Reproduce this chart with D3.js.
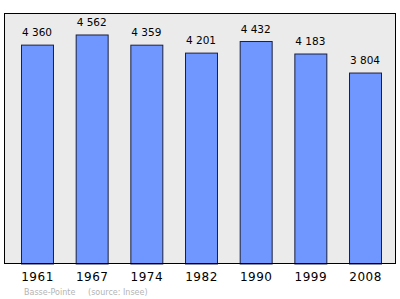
<!DOCTYPE html>
<html><head><meta charset="utf-8">
<script src="https://d3js.org/d3.v7.min.js"></script>
<style>body{margin:0;background:#fff}svg{display:block}</style>
</head><body>
<script>
const years = ["1961","1967","1974","1982","1990","1999","2008"];
const population = [4360,4562,4359,4201,4432,4183,3804];
const valueLabels = ["4 360","4 562","4 359","4 201","4 432","4 183","3 804"];
const caption = "Basse-Pointe     (source: Insee)";

const W = 400, H = 299;
const plot = {left: 4.5, right: 395.5, top: 13.5, bottom: 263.5};
const svg = d3.select("body").append("svg").attr("width", W).attr("height", H);

svg.append("rect")
  .attr("x", plot.left).attr("y", plot.top)
  .attr("width", plot.right - plot.left).attr("height", plot.bottom - plot.top)
  .attr("fill", "#ebebeb").attr("stroke", "#000").attr("stroke-width", 1);

const x = d3.scaleBand().domain(years).range([21.5, 381.5]).paddingInner(0.415).paddingOuter(0);
const y = d3.scaleLinear().domain([0, 5000]).range([264, 13]);

svg.selectAll("rect.bar").data(population).enter().append("rect")
  .attr("class", "bar")
  .attr("x", (d, i) => x(years[i]))
  .attr("y", d => y(d))
  .attr("width", x.bandwidth())
  .attr("height", d => y(0) - y(d))
  .attr("fill", "#6f97ff").attr("stroke", "#1a2040").attr("stroke-width", 1);

svg.append("line").attr("x1", plot.left).attr("x2", plot.right)
  .attr("y1", plot.bottom).attr("y2", plot.bottom).attr("stroke", "#000");

svg.selectAll("text.val").data(population).enter().append("text")
  .attr("class", "val")
  .attr("x", (d, i) => x(years[i]) + x.bandwidth() / 2 - 0.5)
  .attr("y", d => y(d) - 9)
  .attr("text-anchor", "middle")
  .attr("font-family", "DejaVu Sans, sans-serif").attr("font-size", 10.5)
  .attr("fill", "#000")
  .text((d, i) => valueLabels[i]);

const xAxis = svg.append("g").attr("transform", `translate(0,${plot.bottom})`)
  .call(d3.axisBottom(x).tickSize(0).tickPadding(9));
xAxis.select(".domain").remove();
xAxis.selectAll("text").attr("font-family", "DejaVu Sans, sans-serif").attr("font-size", 12)
  .attr("fill", "#000").attr("letter-spacing", 0.5);

svg.append("text").attr("x", 24).attr("y", 294.5)
  .attr("font-family", "DejaVu Sans, sans-serif").attr("font-size", 8)
  .attr("fill", "#b4b4b4").attr("xml:space", "preserve").style("white-space", "pre")
  .text(caption);
</script>
</body></html>
